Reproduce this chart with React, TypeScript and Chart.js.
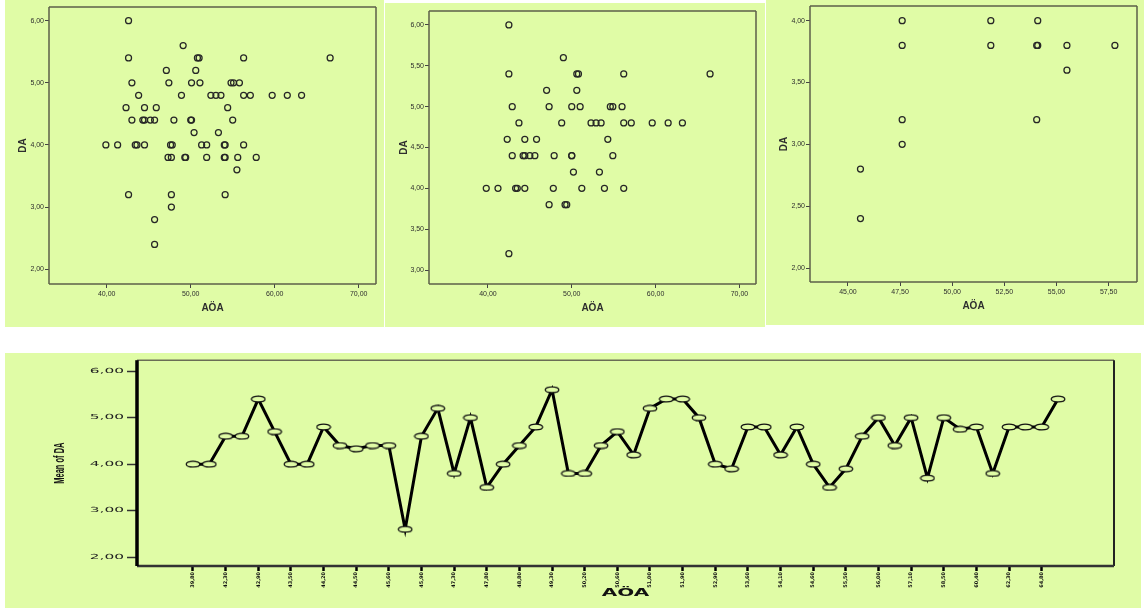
import React, { useEffect, useRef } from 'react';
import { Chart, registerables } from 'chart.js';

Chart.register(...registerables);

const PANEL_BG = '#e0fca6';
const FRAME = '#5c5f48';
const TEXT = '#2e2e2e';

// ---------- Scatter 1 (all cases) ----------
const s1Aoa = [42.6, 49.1, 42.6, 50.8, 51.0, 56.3, 66.6, 47.1, 50.6, 43.0, 47.4, 50.1, 51.1, 54.8, 55.1, 55.8,
  43.8, 48.9, 52.4, 53.0, 53.6, 56.3, 57.1, 59.7, 61.5, 63.2, 42.3, 44.5, 45.9, 54.4,
  43.0, 44.3, 44.5, 45.2, 45.7, 48.0, 50.0, 50.1, 55.0, 50.4, 53.3,
  39.9, 41.3, 43.4, 43.6, 44.5, 47.6, 47.8, 51.3, 51.9, 54.0, 54.1, 56.3,
  47.3, 47.7, 49.3, 49.4, 51.9, 54.0, 54.1, 55.6, 57.8, 55.5, 42.6, 47.7, 54.1, 47.7, 45.7, 45.7];
const s1Da = [6.0, 5.6, 5.4, 5.4, 5.4, 5.4, 5.4, 5.2, 5.2, 5.0, 5.0, 5.0, 5.0, 5.0, 5.0, 5.0,
  4.8, 4.8, 4.8, 4.8, 4.8, 4.8, 4.8, 4.8, 4.8, 4.8, 4.6, 4.6, 4.6, 4.6,
  4.4, 4.4, 4.4, 4.4, 4.4, 4.4, 4.4, 4.4, 4.4, 4.2, 4.2,
  4.0, 4.0, 4.0, 4.0, 4.0, 4.0, 4.0, 4.0, 4.0, 4.0, 4.0, 4.0,
  3.8, 3.8, 3.8, 3.8, 3.8, 3.8, 3.8, 3.8, 3.8, 3.6, 3.2, 3.2, 3.2, 3.0, 2.8, 2.4];
const s1XTicks = [40, 50, 60, 70];
const s1YTicks = [2, 3, 4, 5, 6];

// ---------- Scatter 2 ----------
const s2Aoa = [42.5, 49.0, 42.5, 50.6, 50.8, 56.2, 66.5, 47.0, 50.6, 42.9, 47.3, 50.0, 51.0, 54.6, 54.9, 56.0,
  43.7, 48.8, 52.3, 52.9, 53.5, 56.2, 57.1, 59.6, 61.5, 63.2, 42.3, 44.4, 45.8, 54.3,
  42.9, 44.2, 44.4, 45.0, 45.6, 47.9, 50.0, 50.0, 54.9, 50.2, 53.3,
  39.8, 41.2, 43.3, 43.5, 44.4, 47.8, 51.2, 53.9, 56.2, 47.3, 49.2, 49.4, 42.5];
const s2Da = [6.0, 5.6, 5.4, 5.4, 5.4, 5.4, 5.4, 5.2, 5.2, 5.0, 5.0, 5.0, 5.0, 5.0, 5.0, 5.0,
  4.8, 4.8, 4.8, 4.8, 4.8, 4.8, 4.8, 4.8, 4.8, 4.8, 4.6, 4.6, 4.6, 4.6,
  4.4, 4.4, 4.4, 4.4, 4.4, 4.4, 4.4, 4.4, 4.4, 4.2, 4.2,
  4.0, 4.0, 4.0, 4.0, 4.0, 4.0, 4.0, 4.0, 4.0, 3.8, 3.8, 3.8, 3.2];
const s2XTicks = [40, 50, 60, 70];
const s2YTicks = [3, 3.5, 4, 4.5, 5, 5.5, 6];

// ---------- Scatter 3 ----------
const s3Aoa = [47.6, 47.6, 51.85, 51.85, 54.1, 54.05, 54.1, 55.5, 55.5, 57.8, 47.6, 47.6, 54.05, 45.6, 45.6];
const s3Da = [4.0, 3.8, 4.0, 3.8, 4.0, 3.8, 3.8, 3.8, 3.6, 3.8, 3.2, 3.0, 3.2, 2.8, 2.4];
const s3XTicks = [45, 47.5, 50, 52.5, 55, 57.5];
const s3YTicks = [2, 2.5, 3, 3.5, 4];

// ---------- Line chart: mean of DA by AÖA ----------
const lineLabels = ['39,80', '41,20', '42,30', '42,60', '42,90', '43,30', '43,50', '43,80', '44,20', '44,40',
  '44,50', '45,10', '45,60', '45,70', '45,90', '47,10', '47,30', '47,60', '47,80', '48,00',
  '48,80', '49,10', '49,30', '50,00', '50,20', '50,40', '50,60', '50,80', '51,00', '51,20',
  '51,90', '52,40', '52,90', '53,30', '53,60', '53,90', '54,10', '54,30', '54,60', '54,90',
  '55,50', '55,80', '56,00', '56,30', '57,10', '57,80', '58,50', '59,70', '60,40', '61,50',
  '62,30', '63,20', '64,80', '66,60'];
const lineMeans = [4.0, 4.0, 4.6, 4.6, 5.4, 4.7, 4.0, 4.0, 4.8, 4.4,
  4.33, 4.4, 4.4, 2.6, 4.6, 5.2, 3.8, 5.0, 3.5, 4.0,
  4.4, 4.8, 5.6, 3.8, 3.8, 4.4, 4.7, 4.2, 5.2, 5.4,
  5.4, 5.0, 4.0, 3.9, 4.8, 4.8, 4.2, 4.8, 4.0, 3.5,
  3.9, 4.6, 5.0, 4.4, 5.0, 3.7, 5.0, 4.75, 4.8, 3.8,
  4.8, 4.8, 4.8, 5.4];
const lineYTicks = [2, 3, 4, 5, 6];

const fmt = (v: number) => v.toFixed(2).replace('.', ',');

const framePlugin = {
  id: 'frame',
  afterDraw(chart: any, _args: any, opts: any) {
    const { ctx, chartArea: a } = chart;
    const sides = opts.sides || {};
    ctx.save();
    const line = (s: any, x1: number, y1: number, x2: number, y2: number) => {
      if (!s) return;
      ctx.strokeStyle = s.color;
      ctx.lineWidth = s.width;
      ctx.beginPath();
      ctx.moveTo(x1, y1);
      ctx.lineTo(x2, y2);
      ctx.stroke();
    };
    line(sides.top, a.left, a.top, a.right, a.top);
    line(sides.right, a.right, a.top, a.right, a.bottom);
    line(sides.bottom, a.left, a.bottom, a.right, a.bottom);
    line(sides.left, a.left, a.top, a.left, a.bottom);
    ctx.restore();
  },
};

// Horizontally stretch the text drawn by one scale method (the bottom chart
// is a horizontally stretched SPSS picture), anchored at a given x.
function stretchMethod(sc: any, method: string, sx: number, anchor: (s: any) => number) {
  if (sc['__st_' + method]) return;
  const orig = sc[method].bind(sc);
  sc[method] = (...args: any[]) => {
    const ctx = sc.ctx;
    const ax = anchor(sc);
    ctx.save();
    ctx.translate(ax, 0);
    ctx.scale(sx, 1);
    ctx.translate(-ax, 0);
    orig(...args);
    ctx.restore();
  };
  sc['__st_' + method] = true;
}

type ScatterSpec = {
  aoa: number[];
  da: number[];
  xTicks: number[];
  yTicks: number[];
  xMin: number;
  xMax: number;
  yMin: number;
  yMax: number;
  yAxisWidth: number;
  xAxisHeight: number;
  padRight: number;
  padTop: number;
  yTitlePad: number;
  xTitlePad: number;
};

function scatterConfig(s: ScatterSpec): any {
  const pts = s.aoa.map((x, i) => ({ x, y: s.da[i] }));
  const frameSide = { color: FRAME, width: 1.5 };
  return {
    type: 'scatter',
    data: {
      datasets: [{
        data: pts,
        pointRadius: 3,
        pointHoverRadius: 3,
        pointBorderWidth: 1.25,
        pointBorderColor: '#262626',
        pointBackgroundColor: 'rgba(0,0,0,0)',
      }],
    },
    options: {
      responsive: false,
      animation: false,
      events: [],
      layout: { padding: { left: 0, right: s.padRight, top: s.padTop, bottom: 0 } },
      plugins: {
        legend: { display: false },
        tooltip: { enabled: false },
        frame: { sides: { top: frameSide, right: frameSide, bottom: frameSide, left: frameSide } },
      },
      scales: {
        x: {
          type: 'linear',
          min: s.xMin,
          max: s.xMax,
          afterBuildTicks: (sc: any) => { sc.ticks = s.xTicks.map((v) => ({ value: v })); },
          afterFit: (sc: any) => { sc.height = s.xAxisHeight; },
          border: { display: false },
          grid: { drawOnChartArea: false, drawTicks: true, tickLength: 4, tickColor: '#444', tickWidth: 1 },
          ticks: {
            padding: 2,
            maxRotation: 0,
            autoSkip: false,
            color: TEXT,
            font: { family: 'Liberation Sans, Arial, sans-serif', size: 7 },
            callback: (v: number) => fmt(v),
          },
          title: {
            display: true,
            text: 'AÖA',
            color: TEXT,
            font: { family: 'Liberation Sans, Arial, sans-serif', size: 10, weight: 'bold' },
            padding: { top: 0, bottom: s.xTitlePad },
          },
        },
        y: {
          type: 'linear',
          min: s.yMin,
          max: s.yMax,
          afterBuildTicks: (sc: any) => { sc.ticks = s.yTicks.map((v) => ({ value: v })); },
          afterFit: (sc: any) => { sc.width = s.yAxisWidth; },
          border: { display: false },
          grid: { drawOnChartArea: false, drawTicks: true, tickLength: 4, tickColor: '#444', tickWidth: 1 },
          ticks: {
            padding: 1,
            autoSkip: false,
            color: TEXT,
            font: { family: 'Liberation Sans, Arial, sans-serif', size: 7 },
            callback: (v: number) => fmt(v),
          },
          title: {
            display: true,
            text: 'DA',
            color: TEXT,
            font: { family: 'Liberation Sans, Arial, sans-serif', size: 10, weight: 'bold' },
            padding: { top: s.yTitlePad, bottom: 0 },
          },
        },
      },
    },
    plugins: [framePlugin],
  };
}

function makeEllipse(): HTMLCanvasElement {
  const c = document.createElement('canvas');
  c.width = 16;
  c.height = 8;
  const g = c.getContext('2d')!;
  g.fillStyle = PANEL_BG;
  g.strokeStyle = '#111';
  g.lineWidth = 1.3;
  g.beginPath();
  g.ellipse(8, 4, 6.8, 2.9, 0, 0, Math.PI * 2);
  g.fill();
  g.stroke();
  return c;
}

const Y_TICK_LEN = 10;
const Y_TICK_PAD = 3;
const Y_TITLE_PAD = 50;
const Y_TITLE_SIZE = 7.5;

const stretchPlugin = {
  id: 'stretchText',
  beforeDraw(chart: any) {
    const x = chart.scales.x;
    const y = chart.scales.y;
    stretchMethod(y, 'drawLabels', 2.2, (s: any) => s.right - Y_TICK_LEN - Y_TICK_PAD);
    stretchMethod(y, 'drawTitle', 2.0, (s: any) => s.left + Y_TITLE_PAD + (Y_TITLE_SIZE * 1.2) / 2);
    stretchMethod(x, 'drawTitle', 2.0, (s: any) => (s.left + s.right) / 2);
  },
};

function lineConfig(): any {
  const pts = lineMeans.map((y, i) => ({ x: i, y }));
  const evenTicks = lineLabels.map((_, i) => i).filter((i) => i % 2 === 0);
  return {
    type: 'line',
    data: {
      datasets: [{
        data: pts,
        borderColor: '#000',
        borderWidth: 3,
        pointStyle: makeEllipse(),
        pointRadius: 4,
        pointHoverRadius: 4,
        tension: 0,
        fill: false,
      }],
    },
    options: {
      responsive: false,
      animation: false,
      events: [],
      layout: { padding: { left: 0, right: 27, top: 6, bottom: 0 } },
      plugins: {
        legend: { display: false },
        tooltip: { enabled: false },
        frame: {
          sides: {
            top: { color: '#6a6d55', width: 1.5 },
            right: { color: '#222', width: 2 },
            bottom: { color: '#333', width: 2.5 },
            left: { color: '#000', width: 3.5 },
          },
        },
      },
      scales: {
        x: {
          type: 'linear',
          min: -3.43,
          max: lineLabels.length - 1 + 3.43,
          afterBuildTicks: (sc: any) => { sc.ticks = evenTicks.map((v) => ({ value: v })); },
          afterFit: (sc: any) => { sc.height = 42; },
          border: { display: false },
          grid: { drawOnChartArea: false, drawTicks: true, tickLength: 5, tickColor: '#000', tickWidth: 2.5 },
          ticks: {
            padding: 1,
            minRotation: 90,
            maxRotation: 90,
            autoSkip: false,
            color: '#111',
            font: { family: 'DejaVu Sans, sans-serif', size: 5, weight: 'bold' },
            callback: (v: number) => lineLabels[v] ?? '',
          },
          title: {
            display: true,
            text: 'AÖA',
            color: '#111',
            font: { family: 'DejaVu Sans, sans-serif', size: 10, weight: 'bold' },
            padding: { top: 0, bottom: 9 },
          },
        },
        y: {
          type: 'linear',
          min: 1.81,
          max: 6.235,
          afterBuildTicks: (sc: any) => { sc.ticks = lineYTicks.map((v) => ({ value: v })); },
          afterFit: (sc: any) => { sc.width = 132; },
          border: { display: false },
          grid: { drawOnChartArea: false, drawTicks: true, tickLength: Y_TICK_LEN, tickColor: '#333', tickWidth: 1.5 },
          ticks: {
            padding: Y_TICK_PAD,
            autoSkip: false,
            color: '#222',
            font: { family: 'DejaVu Sans, sans-serif', size: 7 },
            callback: (v: number) => fmt(v),
          },
          title: {
            display: true,
            text: 'Mean of DA',
            color: '#111',
            font: { family: 'Liberation Sans, Arial, sans-serif', size: Y_TITLE_SIZE, weight: 'bold' },
            padding: { top: Y_TITLE_PAD, bottom: 0 },
          },
        },
      },
    },
    plugins: [framePlugin, stretchPlugin],
  };
}

function ChartBox(props: { left: number; top: number; width: number; height: number; make: () => any }) {
  const ref = useRef<HTMLCanvasElement | null>(null);
  useEffect(() => {
    if (!ref.current) return;
    const chart = new Chart(ref.current, props.make());
    return () => chart.destroy();
  }, []);
  return (
    <div
      style={{
        position: 'absolute',
        left: props.left,
        top: props.top,
        width: props.width,
        height: props.height,
        background: PANEL_BG,
      }}
    >
      <canvas
        ref={ref}
        width={props.width}
        height={props.height}
        style={{ width: props.width, height: props.height, display: 'block' }}
      />
    </div>
  );
}

export default function App() {
  return (
    <div style={{ position: 'absolute', left: 0, top: 0, width: 1144, height: 610, background: '#fff', overflow: 'hidden' }}>
      <ChartBox
        left={5}
        top={0}
        width={379}
        height={327}
        make={() => scatterConfig({
          aoa: s1Aoa, da: s1Da, xTicks: s1XTicks, yTicks: s1YTicks,
          xMin: 33.13, xMax: 72.06, yMin: 1.763, yMax: 6.22,
          yAxisWidth: 44, xAxisHeight: 43, padRight: 8, padTop: 7, yTitlePad: 12, xTitlePad: 13,
        })}
      />
      <ChartBox
        left={385}
        top={3}
        width={380}
        height={324}
        make={() => scatterConfig({
          aoa: s2Aoa, da: s2Da, xTicks: s2XTicks, yTicks: s2YTicks,
          xMin: 32.97, xMax: 71.98, yMin: 2.829, yMax: 6.171,
          yAxisWidth: 44, xAxisHeight: 43, padRight: 9, padTop: 8, yTitlePad: 13.7, xTitlePad: 13,
        })}
      />
      <ChartBox
        left={766}
        top={0}
        width={378}
        height={325}
        make={() => scatterConfig({
          aoa: s3Aoa, da: s3Da, xTicks: s3XTicks, yTicks: s3YTicks,
          xMin: 43.18, xMax: 58.86, yMin: 1.887, yMax: 4.119,
          yAxisWidth: 44, xAxisHeight: 43, padRight: 7, padTop: 6, yTitlePad: 12.7, xTitlePad: 13,
        })}
      />
      <ChartBox left={5} top={353} width={1136} height={255} make={lineConfig} />
    </div>
  );
}
